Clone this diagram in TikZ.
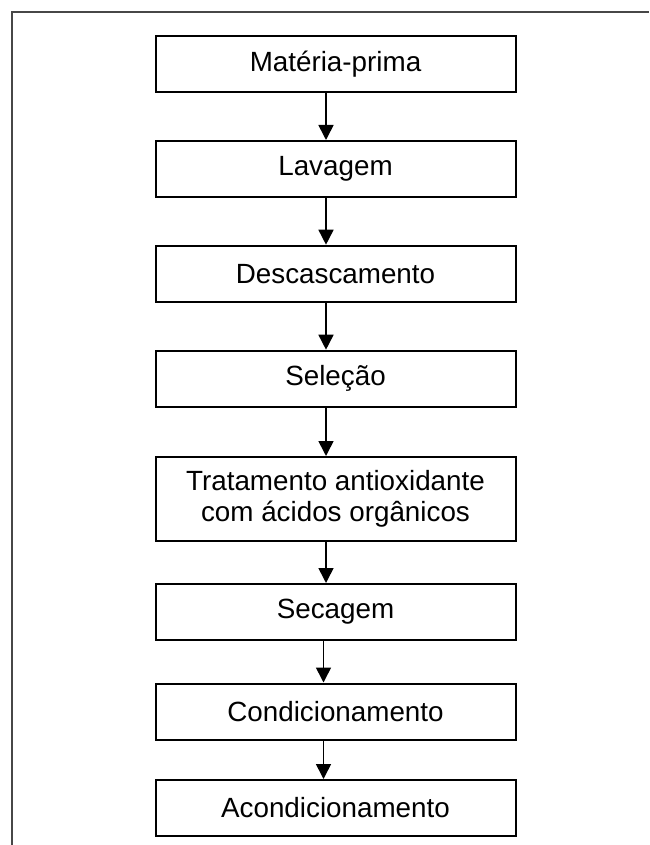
\documentclass[tikz,border=0pt]{standalone}
\usepackage{fontspec}
\setmainfont{Liberation Sans}
\usetikzlibrary{arrows.meta}
\begin{document}
\begin{tikzpicture}[x=1pt,y=-1pt,
  stepbox/.style={draw=black, line width=2pt, minimum width=360pt, minimum height=56pt, inner sep=0pt, align=center, font=\fontsize{27.8}{31}\selectfont},
  arr/.style={line width=1.6pt, -{Triangle[length=15pt,width=15pt]}},
  frame/.style={draw=black!72, line width=2pt}]
\useasboundingbox (0,0) rectangle (649,845);
\draw[frame] (11.5,845) -- (11.5,12.5) -- (649,12.5);
\node[stepbox] (b1) at (335.5,64.5) {Matéria-prima};
\node[stepbox] (b2) at (335.5,169) {Lavagem};
\node[stepbox] (b3) at (335.5,273.7) {Descascamento};
\node[stepbox] (b4) at (335.5,378.7) {Seleção};
\node[stepbox, minimum height=84pt] (b5) at (335.5,499) {Tratamento antioxidante\\com ácidos orgânicos};
\node[stepbox] (b6) at (335.5,612) {Secagem};
\node[stepbox] (b7) at (335.5,711.5) {Condicionamento};
\node[stepbox] (b8) at (335.5,808) {Acondicionamento};
\draw[arr] ([xshift=-9.5pt]b1.south) -- ([xshift=-9.5pt]b2.north);
\draw[arr] ([xshift=-9.5pt]b2.south) -- ([xshift=-9.5pt]b3.north);
\draw[arr] ([xshift=-9.5pt]b3.south) -- ([xshift=-9.5pt]b4.north);
\draw[arr] ([xshift=-9.5pt]b4.south) -- ([xshift=-9.5pt]b5.north);
\draw[arr] ([xshift=-9.5pt]b5.south) -- ([xshift=-9.5pt]b6.north);
\draw[arr] ([xshift=-12pt]b6.south) -- ([xshift=-12pt]b7.north);
\draw[arr] ([xshift=-12pt]b7.south) -- ([xshift=-12pt]b8.north);
\end{tikzpicture}
\end{document}
